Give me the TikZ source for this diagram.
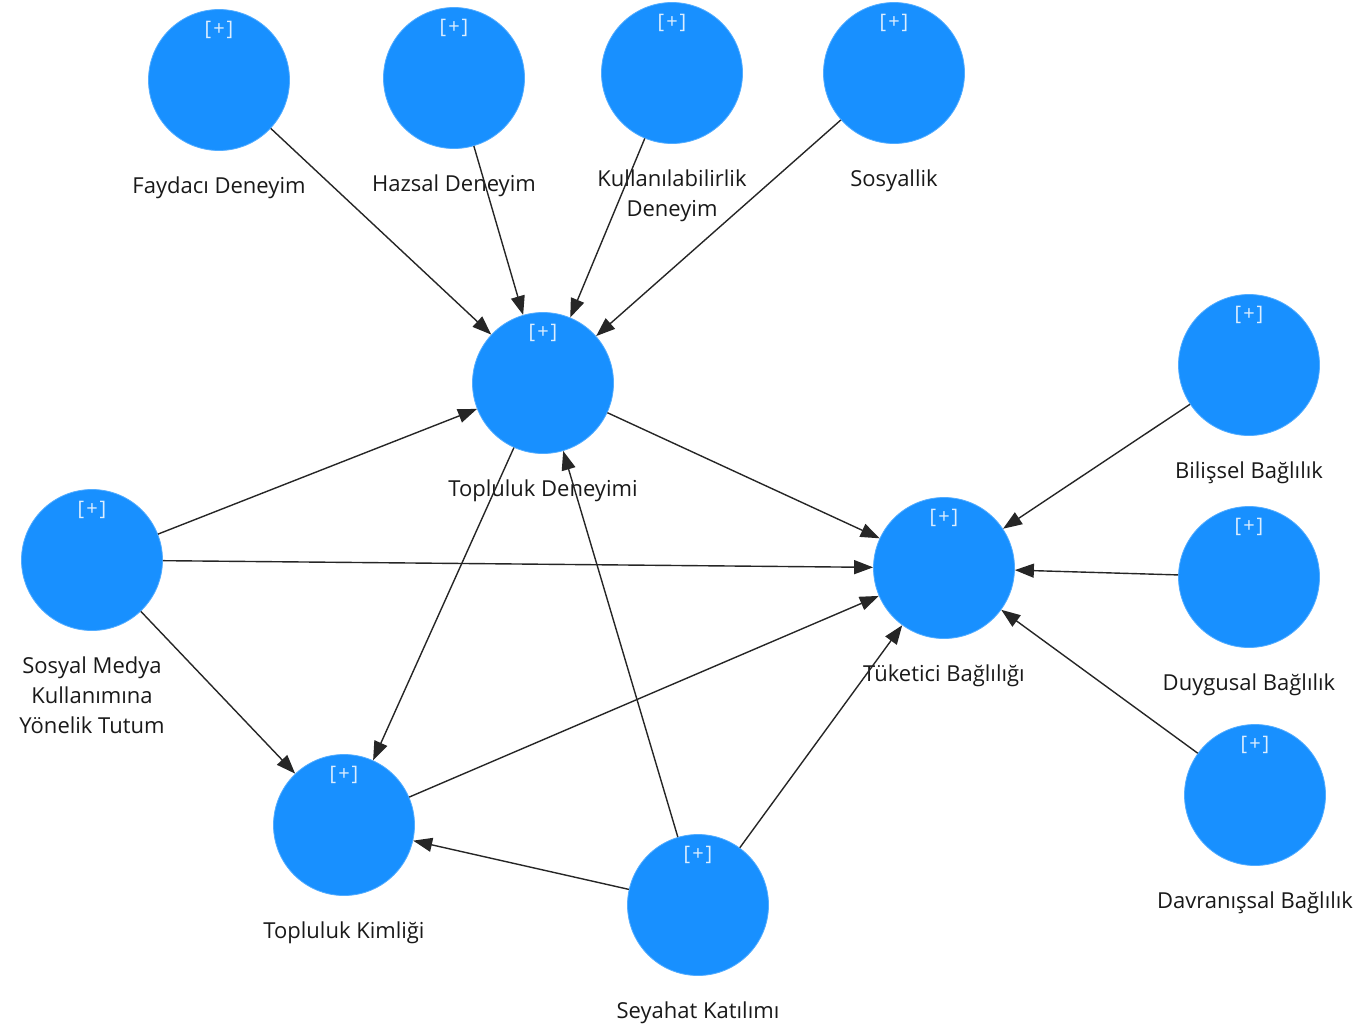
\documentclass[tikz,border=0pt]{standalone}
\usepackage{fontspec}
\setmainfont{Open Sans}
\usetikzlibrary{arrows.meta}

\definecolor{lvblue}{RGB}{24,144,255}

% one latent construct: circle, [+] marker and caption underneath
\newcommand*{\construct}[4]{%
	\node[latent] (#1) at (#2,#3) {};
	\node[plus] (#1-plus) at ([yshift=50pt]#1.center) {[\hspace{2pt}+\hspace{2pt}]};
	\node[caption] (#1-text) at ([yshift=-97pt]#1.center) {#4};
}

\begin{document}
\begin{tikzpicture}
[
	x=1pt, y=-1pt,
	latent/.style={circle,fill=lvblue,draw=lvblue!75!white,line width=0.8pt,minimum size=141pt,inner sep=0pt},
	plus/.style={font=\fontsize{20}{20}\selectfont,text=white!85!lvblue,inner sep=0pt},
	caption/.style={font=\fontsize{22}{30}\selectfont,text=black!90,align=center,anchor=north,inner sep=0pt},
	relation/.style={draw=black!85,line width=1.4pt,-{Triangle[length=19pt,width=14pt]}}
]

	\useasboundingbox (0,0) rectangle (1367,1029);

	% constructs
	\construct{fd}{219}{80}{Faydacı Deneyim}
	\construct{hd}{454}{78}{Hazsal Deneyim}
	\construct{kd}{672}{73}{Kullanılabilirlik\\Deneyim}
	\construct{so}{894}{73}{Sosyallik}
	\construct{td}{543}{383}{Topluluk Deneyimi}
	\construct{sm}{92}{560}{Sosyal Medya\\Kullanımına\\Yönelik Tutum}
	\construct{tb}{944}{568}{Tüketici Bağlılığı}
	\construct{tk}{344}{825}{Topluluk Kimliği}
	\construct{sk}{698}{905}{Seyahat Katılımı}
	\construct{bb}{1249}{365}{Bilişsel Bağlılık}
	\construct{db}{1249}{577}{Duygusal Bağlılık}
	\construct{vb}{1255}{795}{Davranışsal Bağlılık}

	% paths into community experience
	\draw[relation] (fd) -- (td);
	\draw[relation] (hd) -- (td);
	\draw[relation] (kd) -- (td);
	\draw[relation] (so) -- (td);
	\draw[relation] (sm) -- (td);
	\draw[relation] (sk) -- (td);

	% paths into community identity
	\draw[relation] (sm) -- (tk);
	\draw[relation] (td) -- (tk);
	\draw[relation] (sk) -- (tk);

	% paths into consumer engagement
	\draw[relation] (sm) -- (tb);
	\draw[relation] (td) -- (tb);
	\draw[relation] (tk) -- (tb);
	\draw[relation] (sk) -- (tb);
	\draw[relation] (bb) -- (tb);
	\draw[relation] (db) -- (tb);
	\draw[relation] (vb) -- (tb);

\end{tikzpicture}
\end{document}
